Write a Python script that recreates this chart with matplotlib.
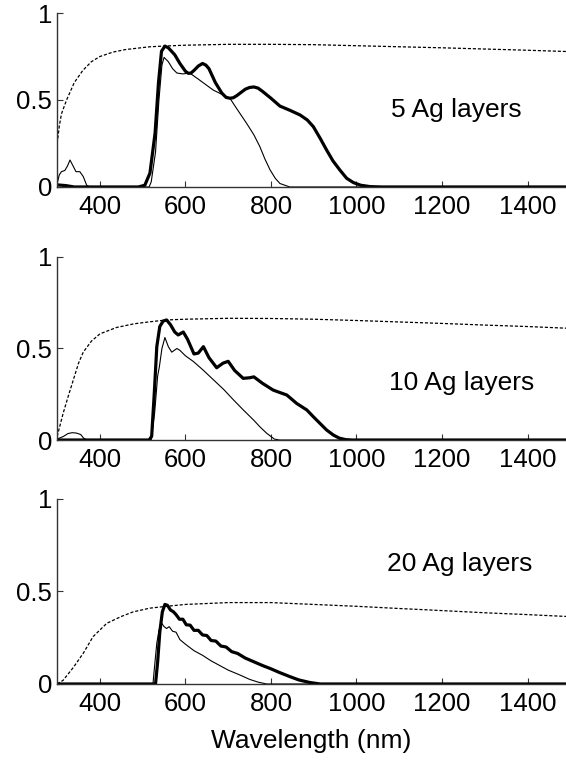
import matplotlib

matplotlib.use("Agg")
import matplotlib.pyplot as plt

# ---- panel 1: 5 Ag layers ----
dash5_x = [300, 305, 310, 322, 340, 360, 380, 400, 430, 460, 517, 550, 600, 700, 800,
           900, 1000, 1100, 1200, 1300, 1400, 1500]
dash5_y = [0.25, 0.35, 0.42, 0.50, 0.60, 0.67, 0.72, 0.75, 0.775, 0.79, 0.806, 0.81, 0.815,
           0.82, 0.82, 0.818, 0.812, 0.806, 0.80, 0.793, 0.786, 0.778]
thick5_x = [300, 320, 340, 490, 505, 517, 529, 537, 544, 552, 560, 575, 587, 600, 607, 613,
            620, 630, 640, 648, 655, 670, 685, 695, 704, 712, 720, 740, 750, 760, 770, 780,
            800, 821, 845, 868, 885, 899, 915, 930, 945, 961, 977, 993, 1010, 1032, 1060, 1500]
thick5_y = [0.012, 0.008, 0.0, 0.0, 0.01, 0.08, 0.31, 0.60, 0.78, 0.81, 0.80, 0.76, 0.71,
            0.665, 0.653, 0.655, 0.67, 0.695, 0.71, 0.70, 0.68, 0.60, 0.54, 0.515, 0.51,
            0.513, 0.525, 0.562, 0.572, 0.575, 0.568, 0.55, 0.51, 0.465, 0.44, 0.414, 0.385,
            0.347, 0.28, 0.213, 0.15, 0.098, 0.05, 0.025, 0.01, 0.002, 0.0, 0.0]
thin5_x = [300, 305, 310, 318, 324, 330, 338, 344, 353, 361, 369, 376, 515, 520, 530, 538,
           545, 550, 560, 570, 580, 594, 610, 630, 665, 704, 720, 743, 760, 774, 786, 798,
           810, 821, 844, 1500]
thin5_y = [0.02, 0.07, 0.088, 0.095, 0.12, 0.155, 0.117, 0.088, 0.088, 0.06, 0.01, 0.0,
           0.0, 0.03, 0.20, 0.50, 0.70, 0.745, 0.72, 0.68, 0.655, 0.65, 0.655, 0.62, 0.557,
           0.51, 0.45, 0.366, 0.30, 0.232, 0.16, 0.098, 0.05, 0.02, 0.0, 0.0]

# ---- panel 2: 10 Ag layers ----
dash10_x = [300, 314, 326, 338, 350, 361, 380, 400, 439, 480, 517, 556, 600, 700, 800,
            900, 1000, 1100, 1200, 1300, 1400, 1500]
dash10_y = [0.02, 0.146, 0.24, 0.33, 0.42, 0.48, 0.54, 0.58, 0.615, 0.635, 0.646, 0.656,
            0.66, 0.665, 0.664, 0.66, 0.653, 0.645, 0.637, 0.628, 0.62, 0.61]
thick10_x = [300, 515, 521, 527, 533, 540, 548, 556, 565, 575, 583, 595, 605, 620, 630,
             642, 655, 673, 688, 700, 715, 735, 750, 760, 780, 805, 820, 837, 860, 884,
             900, 915, 930, 946, 960, 975, 990, 1500]
thick10_y = [0.0, 0.0, 0.02, 0.25, 0.51, 0.62, 0.65, 0.656, 0.63, 0.59, 0.574, 0.59, 0.55,
             0.47, 0.475, 0.51, 0.45, 0.395, 0.42, 0.43, 0.38, 0.337, 0.34, 0.345, 0.31,
             0.273, 0.26, 0.246, 0.20, 0.164, 0.125, 0.09, 0.055, 0.027, 0.01, 0.002, 0.0, 0.0]
thin10_x = [300, 315, 325, 335, 345, 355, 362, 370, 520, 528, 535, 539, 545, 552, 560, 568,
            580, 587, 600, 618, 640, 665, 690, 712, 735, 759, 775, 790, 808, 820, 1500]
thin10_y = [0.005, 0.02, 0.035, 0.04, 0.038, 0.03, 0.01, 0.0, 0.0, 0.15, 0.35, 0.40, 0.50,
            0.56, 0.51, 0.48, 0.50, 0.49, 0.46, 0.43, 0.385, 0.33, 0.275, 0.22, 0.165, 0.11,
            0.07, 0.037, 0.005, 0.0, 0.0]

# ---- panel 3: 20 Ag layers ----
dash20_x = [300, 314, 338, 361, 384, 416, 450, 478, 517, 556, 600, 700, 800, 900, 1000,
            1100, 1172, 1300, 1400, 1500]
dash20_y = [0.0, 0.02, 0.09, 0.166, 0.256, 0.328, 0.365, 0.39, 0.41, 0.42, 0.43, 0.44,
            0.44, 0.43, 0.42, 0.408, 0.40, 0.385, 0.375, 0.364]
thick20_x = [300, 530, 535, 540, 546, 552, 558, 565, 572, 578, 586, 594, 602, 611, 620, 630,
             640, 650, 660, 671, 683, 695, 708, 722, 740, 760, 780, 800, 820, 844, 865, 891,
             915, 1500]
thick20_y = [0.0, 0.0, 0.12, 0.28, 0.39, 0.43, 0.425, 0.40, 0.39, 0.375, 0.35, 0.35, 0.32,
             0.318, 0.29, 0.29, 0.265, 0.262, 0.235, 0.232, 0.205, 0.20, 0.175, 0.165, 0.14,
             0.12, 0.10, 0.082, 0.062, 0.04, 0.022, 0.008, 0.0, 0.0]
thin20_x = [300, 524, 528, 533, 538, 544, 550, 556, 562, 570, 578, 587, 600, 620, 640, 660,
            680, 700, 727, 750, 770, 790, 1500]
thin20_y = [0.0, 0.0, 0.10, 0.22, 0.29, 0.33, 0.31, 0.30, 0.31, 0.285, 0.28, 0.24, 0.215,
            0.18, 0.155, 0.125, 0.10, 0.075, 0.049, 0.025, 0.01, 0.0, 0.0]

labels = ["5 Ag layers", "10 Ag layers", "20 Ag layers"]
label_pos = [(1234, 0.44), (1247, 0.31), (1242, 0.65)]
xticks = [400, 600, 800, 1000, 1200, 1400]

panels = [
    (dash5_x, dash5_y, thick5_x, thick5_y, thin5_x, thin5_y),
    (dash10_x, dash10_y, thick10_x, thick10_y, thin10_x, thin10_y),
    (dash20_x, dash20_y, thick20_x, thick20_y, thin20_x, thin20_y),
]
# [left, bottom, width, height] in figure fraction
rects = [[0.101, 0.7543, 0.899, 0.2286],
         [0.101, 0.4218, 0.899, 0.2405],
         [0.101, 0.1012, 0.899, 0.2431]]

plt.rcParams.update({"font.family": ["Liberation Sans", "DejaVu Sans"], "font.size": 18})
fig = plt.figure(figsize=(5.66, 7.61), dpi=100)

for i, (dx, dy, kx, ky, tx, ty) in enumerate(panels):
    ax = fig.add_axes(rects[i])
    ax.plot(dx, dy, color="black", lw=0.9, ls=(0, (2.5, 1.5)))
    ax.plot(tx, ty, color="black", lw=0.8)
    ax.plot(kx, ky, color="black", lw=2.3)
    ax.set_xlim(300, 1490)
    ax.set_ylim(0, 1)
    ax.set_xticks(xticks)
    ax.set_yticks([0, 0.5, 1])
    ax.set_yticklabels(["0", "0.5", "1"])
    ax.spines["top"].set_visible(False)
    ax.spines["right"].set_visible(False)
    for s in ("left", "bottom"):
        ax.spines[s].set_color("#333333")
        ax.spines[s].set_linewidth(1.0)
    ax.tick_params(direction="in", length=4, width=0.8, color="#333333", labelsize=18.5)
    ax.tick_params(axis="x", pad=6)
    ax.text(label_pos[i][0], label_pos[i][1], labels[i], ha="center", va="center", fontsize=19)
    if i == 2:
        ax.set_xlabel("Wavelength (nm)", fontsize=19, labelpad=9)

fig.savefig("out.png", dpi=100)
plt.close(fig)
